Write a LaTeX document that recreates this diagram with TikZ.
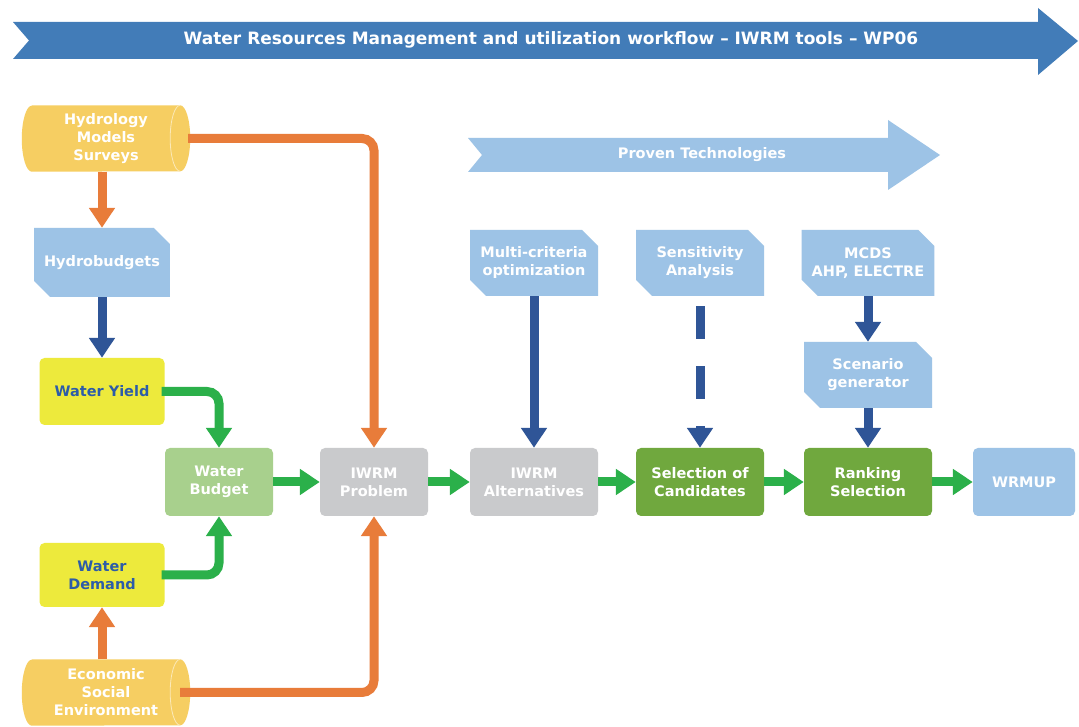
\documentclass[tikz,border=0pt]{standalone}
\usepackage{fontspec}
\setmainfont{DejaVu Sans}
\usetikzlibrary{arrows.meta,shapes.misc,backgrounds,calc}

\definecolor{bannerblue}{RGB}{66,124,184}
\definecolor{lightblue}{RGB}{157,195,230}
\definecolor{cylyellow}{RGB}{246,206,98}
\definecolor{boxyellow}{RGB}{237,234,60}
\definecolor{textblue}{RGB}{45,92,168}
\definecolor{palegreen}{RGB}{168,208,141}
\definecolor{boxgray}{RGB}{201,202,204}
\definecolor{boxgreen}{RGB}{112,168,62}
\definecolor{flowgreen}{RGB}{43,176,74}
\definecolor{floworange}{RGB}{232,124,58}
\definecolor{flowblue}{RGB}{47,85,151}

\tikzset{
  lbl/.style={font=\bfseries\fontsize{14.5}{18}\selectfont, align=center, text=white},
  roundbox/.style={lbl, rectangle, rounded corners=5pt, minimum width=108pt, minimum height=68pt, inner sep=2pt},
  snipbox/.style={lbl, chamfered rectangle, chamfered rectangle corners={north east,south west},
    chamfered rectangle xsep=8pt, chamfered rectangle ysep=8pt,
    minimum width=128pt, minimum height=66pt, fill=lightblue, inner sep=2pt},
  cylbox/.style={lbl, rectangle, minimum width=168pt, minimum height=66pt, inner sep=0pt},
  flow/.style={line width=9pt, rounded corners=12pt, -{Triangle[width=25pt,length=20pt]}},
  gflow/.style={flow, draw=flowgreen},
  oflow/.style={flow, draw=floworange},
  bflow/.style={flow, draw=flowblue},
}

% horizontal cylinder drawn behind a named node
\newcommand{\drumfill}[2]{%
  \begin{scope}[on background layer]
    \fill[#2] ([xshift=10pt]#1.north west) -- ([xshift=-10pt]#1.north east)
      arc[start angle=90, end angle=-90, x radius=10pt, y radius=33pt]
      -- ([xshift=10pt]#1.south west)
      arc[start angle=270, end angle=90, x radius=10pt, y radius=33pt] -- cycle;
    \draw[line width=0.8pt, white!55!#2] ([xshift=-10pt]#1.north east)
      arc[start angle=90, end angle=270, x radius=10pt, y radius=33pt];
  \end{scope}}

\begin{document}
\begin{tikzpicture}[x=1pt,y=1pt]
\useasboundingbox (0,0) rectangle (1079,727);
\begin{scope}[on background layer]
  \fill[white] (0,0) rectangle (1079,727);
\end{scope}

% banners
\fill[bannerblue] (13,705) -- (1038,705) -- (1038,719) -- (1078,686) -- (1038,652)
  -- (1038,668) -- (13,668) -- (29,686.5) -- cycle;
\node[lbl, font=\bfseries\fontsize{17}{20}\selectfont] (workflow) at (551,687) {Water Resources Management and utilization workflow -- IWRM tools -- WP06};

\fill[lightblue] (468,589) -- (888,589) -- (888,607) -- (940,572) -- (888,537)
  -- (888,555) -- (468,555) -- (482,572) -- cycle;
\node[lbl] (proven) at (702,572) {Proven Technologies};

% left column
\node[cylbox] (hydro) at (106,588.5) {Hydrology\\Models\\Surveys};
\drumfill{hydro}{cylyellow}
\node[snipbox, minimum width=127pt, minimum height=69pt] (hbud) at (102,464.5) {Hydrobudgets};
\node[roundbox, fill=boxyellow, text=textblue, minimum width=125pt, minimum height=67pt] (yield) at (102,335.5) {Water Yield};
\node[roundbox, fill=boxyellow, text=textblue, minimum width=125pt, minimum height=64pt] (demand) at (102,152) {Water\\Demand};
\node[cylbox] (econ) at (106,34.5) {Economic\\Social\\Environment};
\drumfill{econ}{cylyellow}

% main chain
\node[roundbox, fill=palegreen] (budget) at (219,245) {Water\\Budget};
\node[roundbox, fill=boxgray] (problem) at (374,245) {IWRM\\Problem};
\node[roundbox, fill=boxgray, minimum width=128pt] (altern) at (534,245) {IWRM\\Alternatives};
\node[roundbox, fill=boxgreen, minimum width=128pt] (select) at (700,245) {Selection of\\Candidates};
\node[roundbox, fill=boxgreen, minimum width=128pt] (rank) at (868,245) {Ranking\\Selection};
\node[roundbox, fill=lightblue, minimum width=102pt] (wrmup) at (1024,245) {WRMUP};

% tools
\node[snipbox] (multi) at (534,464) {Multi-criteria\\optimization};
\node[snipbox] (sens) at (700,464) {Sensitivity\\Analysis};
\node[snipbox] (mcds) at (868,464) {MCDS\\AHP, ELECTRE};
\node[snipbox] (scen) at (868,352) {Scenario\\generator};

% connectors
\draw[oflow] (hydro.south -| hbud.north) -- (hbud.north);
\draw[bflow] (hbud.south -| yield.north) -- (yield.north);
\draw[gflow] ([xshift=-3pt]yield.east) -| (budget.north);
\draw[gflow] ([xshift=-3pt]demand.east) -| (budget.south);
\draw[oflow] (econ.north -| demand.south) -- (demand.south);
\draw[oflow] ([xshift=-2pt]hydro.east) -| (problem.north);
\draw[oflow] ([xshift=-10pt]econ.east) -| (problem.south);
\draw[gflow] (budget.east) -- (problem.west);
\draw[gflow] (problem.east) -- (altern.west);
\draw[gflow] (altern.east) -- (select.west);
\draw[gflow] (select.east) -- (rank.west);
\draw[gflow] (rank.east) -- (wrmup.west);
\draw[bflow] (multi.south) -- (altern.north);
\draw[bflow, dash pattern=on 33pt off 27pt] ([yshift=-10pt]sens.south) -- (select.north);
\draw[bflow] (mcds.south) -- (scen.north);
\draw[bflow] (scen.south) -- (rank.north);
\end{tikzpicture}
\end{document}
